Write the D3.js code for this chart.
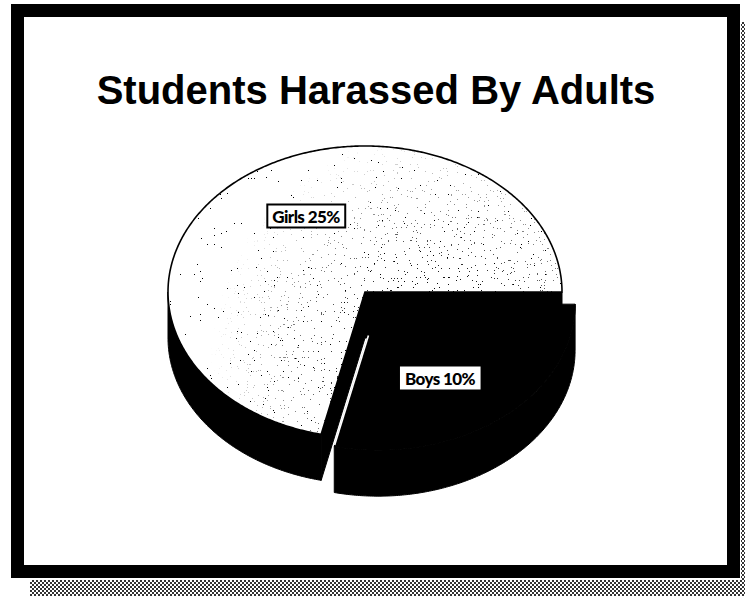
<!DOCTYPE html>
<html>
<head>
<meta charset="utf-8">
<script src="https://cdn.jsdelivr.net/npm/d3@7/dist/d3.min.js"></script>
<style>
  html, body { margin: 0; padding: 0; background: #fff; }
  svg { display: block; }
</style>
</head>
<body>
<svg id="chart" width="745" height="596"></svg>
<script>
// ---- data ----
const title = "Students Harassed By Adults";
const categories = ["Boys", "Girls"];
const values = [10, 25];
const labels = ["Boys 10%", "Girls 25%"];

// ---- layout ----
const W = 745, H = 596;
const cx = 365, cy = 292;     // pie centre
const rx = 197, ry = 146;     // ellipse radii of the top face
const depth = 46;             // thickness of the 3-D disc
const explode = 21;           // pull-out distance for the Boys slice

const svg = d3.select("#chart");
const defs = svg.append("defs");

// halftone shadow behind the frame
const hp = defs.append("pattern").attr("id", "halftone")
  .attr("width", 4).attr("height", 4).attr("patternUnits", "userSpaceOnUse");
hp.append("rect").attr("width", 4).attr("height", 4).attr("fill", "#fff");
hp.append("rect").attr("x", 0).attr("y", 0).attr("width", 2).attr("height", 2).attr("fill", "#333");
hp.append("rect").attr("x", 2).attr("y", 2).attr("width", 2).attr("height", 2).attr("fill", "#333");

svg.append("rect").attr("x", 30).attr("y", 580).attr("width", 715).attr("height", 16).attr("fill", "url(#halftone)");
svg.append("rect").attr("x", 741).attr("y", 22).attr("width", 4).attr("height", 560).attr("fill", "url(#halftone)");

// frame
svg.append("rect")
  .attr("x", 17.5).attr("y", 10.5).attr("width", 716).attr("height", 561)
  .attr("fill", "#fff").attr("stroke", "#000").attr("stroke-width", 13);

// title
svg.append("text")
  .attr("x", 376).attr("y", 104)
  .attr("text-anchor", "middle")
  .attr("font-family", "'Liberation Sans', Arial, Helvetica, sans-serif")
  .attr("font-weight", "bold")
  .attr("font-size", 40)
  .attr("fill", "#000")
  .text(title);

// stipple texture for the light slice
function grainFilter(id, cut, seed) {
  const f = defs.append("filter").attr("id", id)
    .attr("filterUnits", "userSpaceOnUse")
    .attr("x", 0).attr("y", 0).attr("width", W).attr("height", H)
    .attr("color-interpolation-filters", "sRGB");
  f.append("feTurbulence").attr("type", "fractalNoise")
    .attr("baseFrequency", 0.7).attr("numOctaves", 2).attr("seed", seed)
    .attr("result", "noise");
  f.append("feColorMatrix").attr("in", "noise").attr("type", "matrix")
    .attr("values", "0 0 0 0 0  0 0 0 0 0  0 0 0 0 0  1 0 0 0 0").attr("result", "a");
  const n = 50;
  const table = d3.range(n).map(i => (i / n >= cut ? 1 : 0)).join(" ");
  f.append("feComponentTransfer").attr("in", "a")
    .append("feFuncA").attr("type", "discrete").attr("tableValues", table);
}
grainFilter("grainA", 0.80, 3);
grainFilter("grainB", 0.74, 11);

const dens = defs.append("radialGradient").attr("id", "densGrad")
  .attr("gradientUnits", "userSpaceOnUse")
  .attr("cx", 440).attr("cy", 360).attr("r", 230);
dens.append("stop").attr("offset", 0.3).attr("stop-color", "#fff");
dens.append("stop").attr("offset", 1).attr("stop-color", "#000");
defs.append("mask").attr("id", "densMask")
  .attr("maskUnits", "userSpaceOnUse").attr("x", 0).attr("y", 0).attr("width", W).attr("height", H)
  .append("rect").attr("width", W).attr("height", H).attr("fill", "url(#densGrad)");

// ---- pie geometry ----
const pie = d3.pie().sort(null).value(d => d).startAngle(Math.PI / 2).endAngle(Math.PI / 2 + 2 * Math.PI);
const arcs = pie(values);

// angle: 0 at 12 o'clock, clockwise, as d3.pie gives it
const px = d3.scaleLinear().domain([-1, 1]).range([cx - rx, cx + rx]);
const py = d3.scaleLinear().domain([-1, 1]).range([cy - ry, cy + ry]);
function pt(a, ox, oy, dz) {
  return [px(Math.sin(a)) + ox, py(-Math.cos(a)) + oy + dz];
}
function arcPts(a0, a1, ox, oy, dz) {
  const n = Math.max(2, Math.ceil(Math.abs(a1 - a0) / 0.01));
  return d3.range(n + 1).map(i => pt(a0 + (a1 - a0) * i / n, ox, oy, dz));
}
const line = d3.line();
const closed = pts => line(pts) + "Z";

const slices = arcs.map((d, i) => {
  const mid = (d.startAngle + d.endAngle) / 2;
  const pulled = categories[i] === "Boys";
  const ox = pulled ? explode * Math.sin(mid) : 0;
  const oy = pulled ? -explode * Math.cos(mid) * (ry / rx) : 0;
  return { d, i, ox, oy, pulled };
});

const girls = slices.find(s => !s.pulled);
const boys = slices.find(s => s.pulled);

function drawSide(s, g) {
  // front part of the outer wall: angles between 90° and 270°
  const a0 = Math.max(s.d.startAngle, Math.PI / 2);
  const a1 = Math.min(s.d.endAngle, 3 * Math.PI / 2);
  if (a1 <= a0) return;
  const top = arcPts(a0, a1, s.ox, s.oy, 0);
  const bot = arcPts(a1, a0, s.ox, s.oy, depth);
  g.append("path").attr("d", closed(top.concat(bot))).attr("fill", "#000").attr("stroke", "#000").attr("stroke-width", 1);
}
function cutFace(s, a, g) {
  const c = [cx + s.ox, cy + s.oy];
  const e = pt(a, s.ox, s.oy, 0);
  g.append("path")
    .attr("d", closed([c, e, [e[0], e[1] + depth], [c[0], c[1] + depth]]))
    .attr("fill", "#000").attr("stroke", "#000").attr("stroke-width", 1);
}
function topPath(s) {
  const c = [cx + s.ox, cy + s.oy];
  return closed([c].concat(arcPts(s.d.startAngle, s.d.endAngle, s.ox, s.oy, 0)));
}

const gPie = svg.append("g");

// Girls slice (back)
drawSide(girls, gPie);
cutFace(girls, girls.d.startAngle, gPie);
cutFace(girls, girls.d.endAngle, gPie);
const gTop = topPath(girls);
defs.append("clipPath").attr("id", "girlsClip").append("path").attr("d", gTop);
gPie.append("path").attr("d", gTop).attr("fill", "#fff");
const gs = gPie.append("g").attr("clip-path", "url(#girlsClip)");
gs.append("rect").attr("width", W).attr("height", H).attr("filter", "url(#grainA)");
gs.append("g").attr("mask", "url(#densMask)")
  .append("rect").attr("width", W).attr("height", H).attr("filter", "url(#grainB)");
gPie.append("path").attr("d", gTop).attr("fill", "none").attr("stroke", "#000").attr("stroke-width", 1.6);

// Boys slice (front, pulled out)
drawSide(boys, gPie);
gPie.append("path").attr("d", topPath(boys)).attr("fill", "#000").attr("stroke", "#000").attr("stroke-width", 1);
// light edge along the pulled slice's left cut
{
  const c = [cx + boys.ox, cy + boys.oy];
  const e = pt(boys.d.endAngle, boys.ox, boys.oy, 0);
  const t0 = 0.22, t1 = 0.99;
  gPie.append("path")
    .attr("d", line([[c[0] + (e[0] - c[0]) * t0, c[1] + (e[1] - c[1]) * t0],
                     [c[0] + (e[0] - c[0]) * t1, c[1] + (e[1] - c[1]) * t1]]))
    .attr("stroke", "#fff").attr("stroke-width", 1.6);
}

// ---- labels ----
const labelPos = { "Girls": [306, 216], "Boys": [440, 378] };
const gLab = svg.append("g")
  .attr("font-family", "Lato, 'DejaVu Sans', sans-serif")
  .attr("font-weight", 900)
  .attr("font-size", 17);
slices.forEach(s => {
  const name = categories[s.i];
  const [lx, ly] = labelPos[name];
  const g = gLab.append("g");
  const t = g.append("text").attr("x", lx).attr("y", ly).attr("text-anchor", "middle")
    .attr("dominant-baseline", "central").attr("fill", "#000")
    .attr("letter-spacing", -0.6).text(labels[s.i]);
  const bb = t.node().getBBox();
  g.insert("rect", "text")
    .attr("x", bb.x - 5).attr("y", ly - 11.5).attr("width", bb.width + 10).attr("height", 23)
    .attr("fill", "#fff")
    .attr("stroke", s.pulled ? "none" : "#000").attr("stroke-width", 2);
});
</script>
</body>
</html>
